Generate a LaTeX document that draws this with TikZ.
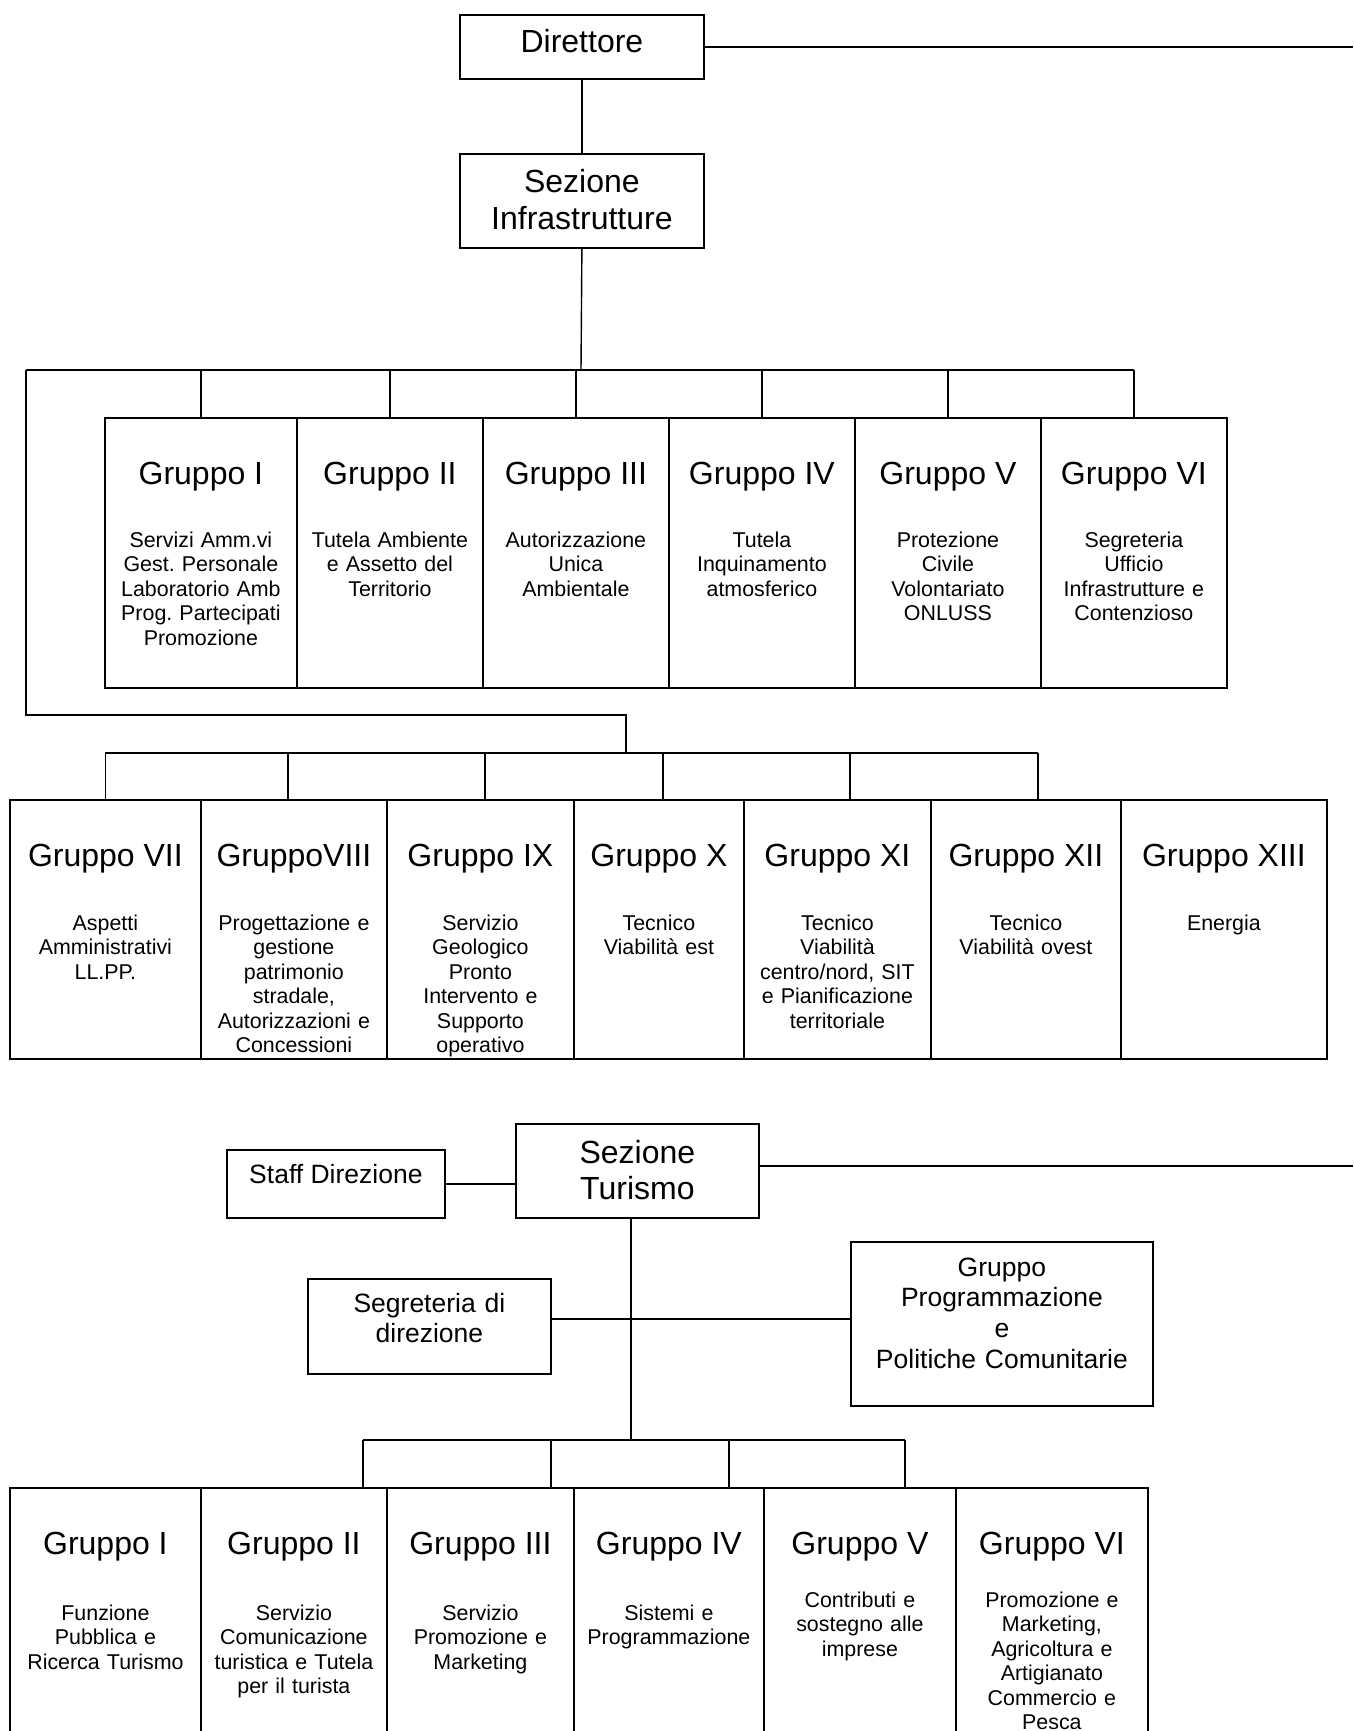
\documentclass[tikz,border=0pt]{standalone}
\usepackage{fontspec}
\setmainfont{Liberation Sans}
\usetikzlibrary{calc}
\frenchspacing
\tikzset{
 boxst/.style={draw, line width=1.8pt, inner sep=0pt, anchor=north west},
 conn/.style={line width=1.4pt},
 hd/.style={font=\fontsize{32}{36.8}\selectfont, inner sep=0pt, anchor=base},
 bd/.style={font=\fontsize{21.4}{24.5}\selectfont\frenchspacing, inner sep=0pt, anchor=base, align=center},
 md/.style={font=\fontsize{26.5}{30.7}\selectfont, inner sep=0pt, anchor=base, align=center},
 big/.style={font=\fontsize{32}{36.5}\selectfont, inner sep=0pt, anchor=base, align=center},
}
\newcommand\mybox[5]{\node[boxst, minimum width=#4, minimum height=#5] (#1) at (#2,#3) {};}
\newcommand\grp[6]{% name, head, body, body offset, text width
 \node[hd] (#1h) at ([yshift=-67pt]#1.north) {#2};
 \node[bd, text width=#5] (#1b) at ([yshift=-#4pt]#1.north) {#3};}
\begin{document}
\begin{tikzpicture}[x=1pt,y=-1pt]
\useasboundingbox (0,0) rectangle (1353,1731);
\fill[white] (0,0) rectangle (1353,1731);
\clip (0,0) rectangle (1353,1731);
\coordinate (edgeR) at (1353,0);

% top
\mybox{dir}{459}{14}{244}{64}
\node[big] (dirt) at ([yshift=-39pt]dir.north) {Direttore};
\mybox{sinf}{459}{153}{244}{94}
\node[big, text width=236pt] (sinft) at ([yshift=-40pt]sinf.north) {Sezione\\Infrastrutture};

% row 1
\mybox{g1}{104}{417}{192}{270}
\mybox{g2}{296}{417}{186}{270}
\mybox{g3}{482}{417}{186}{270}
\mybox{g4}{668}{417}{186}{270}
\mybox{g5}{854}{417}{186}{270}
\mybox{g6}{1040}{417}{186}{270}
\grp{g1}{Gruppo I}{Servizi Amm.vi\\Gest. Personale\\Laboratorio Amb\\Prog. Partecipati\\Promozione}{130}{184pt}{}
\grp{g2}{Gruppo II}{Tutela Ambiente\\e Assetto del\\Territorio}{130}{180pt}{}
\grp{g3}{Gruppo III}{Autorizzazione\\Unica\\Ambientale}{130}{180pt}{}
\grp{g4}{Gruppo IV}{Tutela\\Inquinamento\\atmosferico}{130}{180pt}{}
\grp{g5}{Gruppo V}{Protezione\\Civile\\Volontariato\\ONLUSS}{130}{180pt}{}
\grp{g6}{Gruppo VI}{Segreteria\\Ufficio\\Infrastrutture e\\Contenzioso}{130}{180pt}{}

% row 2
\mybox{h1}{9}{799}{191}{259}
\mybox{h2}{200}{799}{186}{259}
\mybox{h3}{386}{799}{187}{259}
\mybox{h4}{573}{799}{170}{259}
\mybox{h5}{743}{799}{187}{259}
\mybox{h6}{930}{799}{190}{259}
\mybox{h7}{1120}{799}{206}{259}
\grp{h1}{Gruppo VII}{Aspetti\\Amministrativi\\LL.PP.}{131}{184pt}{}
\grp{h2}{GruppoVIII}{Progettazione e\\gestione\\patrimonio\\stradale,\\Autorizzazioni e\\Concessioni}{131}{180pt}{}
\grp{h3}{Gruppo IX}{Servizio\\Geologico\\Pronto\\Intervento e\\Supporto\\operativo}{131}{180pt}{}
\grp{h4}{Gruppo X}{Tecnico\\Viabilità est}{131}{164pt}{}
\grp{h5}{Gruppo XI}{Tecnico\\Viabilità\\centro/nord, SIT\\e Pianificazione\\territoriale}{131}{180pt}{}
\grp{h6}{Gruppo XII}{Tecnico\\Viabilità ovest}{131}{184pt}{}
\grp{h7}{Gruppo XIII}{Energia}{131}{200pt}{}

% connectors infrastrutture
\draw[conn] (dir.east) -- (dir.east -| edgeR);
\draw[conn] (dir.south) -- (sinf.north);
\coordinate (b1) at (581,370);
\coordinate (b1L) at (26,370);
\draw[conn] (sinf.south) -- (b1);
\draw[conn] (b1L) -- (g6.north |- b1);
\foreach \g in {g1,g2,g3,g4,g5,g6} {\draw[conn] (\g.north) -- (\g.north |- b1);}
\coordinate (lp) at (626,715);
\coordinate (b2) at (626,753);
\draw[conn] (b1L) |- (lp) -- (b2);
\draw[conn] (h1.north |- b2) -- ([xshift=12pt]h6.north |- b2);
\draw[conn] (h1.north) -- (h1.north |- b2);
\draw[conn] ([xshift=-6pt]h2.north) -- ([xshift=-6pt]h2.north |- b2);
\draw[conn] ([xshift=4.5pt]h3.north) -- ([xshift=4.5pt]h3.north |- b2);
\draw[conn] ([xshift=4pt]h4.north) -- ([xshift=4pt]h4.north |- b2);
\draw[conn] ([xshift=12.5pt]h5.north) -- ([xshift=12.5pt]h5.north |- b2);
\draw[conn] ([xshift=12pt]h6.north) -- ([xshift=12pt]h6.north |- b2);

% turismo
\mybox{staff}{226}{1149}{218}{68}
\node[md] (stafft) at ([yshift=-34pt]staff.north) {Staff Direzione};
\mybox{tur}{515}{1123}{243}{94}
\node[big, text width=236pt] (turt) at ([yshift=-40pt]tur.north) {Sezione\\Turismo};
\mybox{seg}{307}{1278}{243}{95}
\node[md, text width=236pt] (segt) at ([yshift=-34pt]seg.north) {Segreteria di\\direzione};
\mybox{prog}{850}{1241}{302}{164}
\node[md, text width=296pt] (progt) at ([yshift=-35pt]prog.north) {Gruppo\\Programmazione\\e\\Politiche Comunitarie};

\draw[conn] (staff.east) -- (staff.east -| tur.west);
\draw[conn] ([yshift=5pt]tur.east) -- ([yshift=5pt]tur.east -| edgeR);
\coordinate (tb) at (631,1440);
\coordinate (tm) at (631,1319);
\draw[conn] (tur.south -| tb) -- (tb);
\draw[conn] (seg.east |- tm) -- (prog.west |- tm);

% row 3
\mybox{k1}{9}{1487}{191}{300}
\mybox{k2}{200}{1487}{186}{300}
\mybox{k3}{386}{1487}{187}{300}
\mybox{k4}{573}{1487}{190}{300}
\mybox{k5}{763}{1487}{192}{300}
\mybox{k6}{955}{1487}{192}{300}
\grp{k1}{Gruppo I}{Funzione\\Pubblica e\\Ricerca Turismo}{133}{184pt}{}
\grp{k2}{Gruppo II}{Servizio\\Comunicazione\\turistica e Tutela\\per il turista}{133}{180pt}{}
\grp{k3}{Gruppo III}{Servizio\\Promozione e\\Marketing}{133}{180pt}{}
\grp{k4}{Gruppo IV}{Sistemi e\\Programmazione}{133}{184pt}{}
\grp{k5}{Gruppo V}{Contributi e\\sostegno alle\\imprese}{120}{184pt}{}
\grp{k6}{Gruppo VI}{Promozione e\\Marketing,\\Agricoltura e\\Artigianato\\Commercio e\\Pesca}{120}{184pt}{}

\coordinate (t1) at (363,1440);
\coordinate (t2) at (551,1440);
\coordinate (t3) at (729,1440);
\coordinate (t4) at (905,1440);
\draw[conn] (t1) -- (t4);
\draw[conn] (t1) -- (t1 |- k2.north);
\draw[conn] (t2) -- (t2 |- k3.north);
\draw[conn] (t3) -- (t3 |- k4.north);
\draw[conn] (t4) -- (t4 |- k5.north);
\end{tikzpicture}
\end{document}
